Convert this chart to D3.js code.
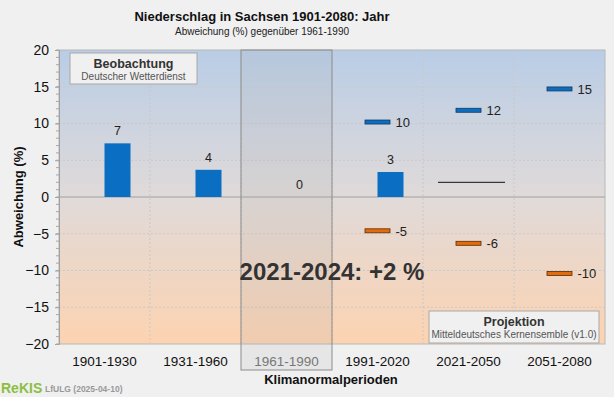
<!DOCTYPE html>
<html>
<head>
<meta charset="utf-8">
<script src="https://cdn.jsdelivr.net/npm/d3@7"></script>
<style>
body { margin: 0; background: #f0f0f0; font-family: "Liberation Sans", Arial, sans-serif; }
</style>
</head>
<body>
<script>
// data
var periods = ["1901-1930", "1931-1960", "1961-1990", "1991-2020", "2021-2050", "2051-2080"];
var obsPeriods = ["1901-1930", "1931-1960", "1961-1990", "1991-2020"];
var obsValues = [7.3, 3.7, 0, 3.4];
var obsLabels = ["7", "4", "0", "3"];
var projPeriods = ["1991-2020", "2021-2050", "2051-2080"];
var projHigh = [10.2, 11.8, 14.7];
var projHighLabels = ["10", "12", "15"];
var projLow = [-4.6, -6.3, -10.4];
var projLowLabels = ["-5", "-6", "-10"];
var recentValue = 2.0;
var recentText = "2021-2024: +2 %";
var yTicks = [-20, -15, -10, -5, 0, 5, 10, 15, 20];

var width = 614;
var height = 397;
var margin = { top: 50, right: 9, bottom: 53, left: 59 };

var svg = d3.select("body")
    .append("svg")
    .attr("width", width)
    .attr("height", height)
    .style("display", "block");

var x = d3.scaleBand()
    .domain(periods)
    .range([margin.left, width - margin.right]);

var y = d3.scaleLinear()
    .domain([-20, 20])
    .range([height - margin.bottom, margin.top]);

var bw = x.bandwidth();

// background gradient
var defs = svg.append("defs");
var grad = defs.append("linearGradient")
    .attr("id", "bg")
    .attr("x1", 0).attr("y1", 0).attr("x2", 0).attr("y2", 1);
grad.append("stop").attr("offset", "0%").attr("stop-color", "#b9cde6");
grad.append("stop").attr("offset", "50%").attr("stop-color", "#e0dad9");
grad.append("stop").attr("offset", "100%").attr("stop-color", "#fdd3b1");

svg.append("rect")
    .attr("x", margin.left)
    .attr("y", y(20))
    .attr("width", x.range()[1] - margin.left)
    .attr("height", y(-20) - y(20))
    .attr("fill", "url(#bg)")
    .attr("stroke", "#b8b8b8");

// grid
svg.append("g").selectAll("line")
    .data(yTicks.filter(function(d) { return d != 0 && d != 20 && d != -20; }))
    .enter().append("line")
    .attr("x1", margin.left).attr("x2", x.range()[1])
    .attr("y1", function(d) { return y(d); }).attr("y2", function(d) { return y(d); })
    .attr("stroke", "#c8c8c8")
    .attr("stroke-dasharray", "2,2");

svg.append("g").selectAll("line")
    .data(periods.slice(1))
    .enter().append("line")
    .attr("x1", function(d) { return x(d); }).attr("x2", function(d) { return x(d); })
    .attr("y1", y(20)).attr("y2", y(-20))
    .attr("stroke", "#c8c8c8")
    .attr("stroke-dasharray", "2,2");

// zero line
svg.append("line")
    .attr("x1", margin.left).attr("x2", x.range()[1])
    .attr("y1", y(0)).attr("y2", y(0))
    .attr("stroke", "#a0a0a0");

// reference period box
svg.append("rect")
    .attr("x", x("1961-1990"))
    .attr("y", y(20))
    .attr("width", bw)
    .attr("height", 370 - y(20))
    .attr("fill", "#a0a0a0")
    .attr("fill-opacity", 0.13)
    .attr("stroke", "#8c8c8c");

// y axis
var yAxis = d3.axisLeft(y)
    .tickValues(yTicks)
    .tickSize(4)
    .tickPadding(6);
var gy = svg.append("g")
    .attr("transform", "translate(" + margin.left + ",0)")
    .call(yAxis);
gy.select(".domain").attr("stroke", "#a0a0a0");
gy.selectAll(".tick line").attr("stroke", "#a0a0a0");
gy.selectAll("text")
    .style("font-size", "14px")
    .style("font-family", "Liberation Sans, Arial, sans-serif")
    .attr("fill", "#111");

// minor ticks
svg.append("g").selectAll("line")
    .data(d3.range(-20, 21))
    .enter().append("line")
    .attr("x1", margin.left - 3).attr("x2", margin.left)
    .attr("y1", function(d) { return y(d); }).attr("y2", function(d) { return y(d); })
    .attr("stroke", "#a8a8a8");

// x tick labels
svg.append("g").selectAll("text")
    .data(periods)
    .enter().append("text")
    .attr("x", function(d) { return x(d) + bw / 2; })
    .attr("y", 366)
    .attr("text-anchor", "middle")
    .style("font-size", "13.5px")
    .attr("fill", function(d) { return d == "1961-1990" ? "#777" : "#111"; })
    .text(function(d) { return d; });

// observation bars
svg.append("g").selectAll("rect")
    .data(obsValues)
    .enter().append("rect")
    .attr("x", function(d, i) { return x(obsPeriods[i]) + bw / 2; })
    .attr("y", function(d) { return y(d); })
    .attr("width", 26)
    .attr("height", function(d) { return y(0) - y(d); })
    .attr("fill", "#0a6fc2");

svg.append("g").selectAll("text")
    .data(obsValues)
    .enter().append("text")
    .attr("x", function(d, i) { return x(obsPeriods[i]) + bw / 2 + 13; })
    .attr("y", function(d) { return y(d) - 8; })
    .attr("text-anchor", "middle")
    .style("font-size", "12.5px")
    .attr("fill", "#222")
    .text(function(d, i) { return obsLabels[i]; });

// projection markers
function markers(vals, labels, fill, stroke) {
    var g = svg.append("g");
    g.selectAll("rect")
        .data(vals)
        .enter().append("rect")
        .attr("x", function(d, i) { return x(projPeriods[i]) + bw / 2 - 12.5; })
        .attr("y", function(d) { return y(d) - 2; })
        .attr("width", 25)
        .attr("height", 4)
        .attr("fill", fill)
        .attr("stroke", stroke)
        .attr("stroke-width", 0.8);
    g.selectAll("text")
        .data(vals)
        .enter().append("text")
        .attr("x", function(d, i) { return x(projPeriods[i]) + bw / 2 + 18; })
        .attr("y", function(d) { return y(d) + 5; })
        .style("font-size", "13px")
        .attr("fill", "#222")
        .text(function(d, i) { return labels[i]; });
}
markers(projHigh, projHighLabels, "#0a6fc2", "#17365d");
markers(projLow, projLowLabels, "#e36c0a", "#5a2a08");

// recent years line
svg.append("line")
    .attr("x1", x("2021-2050") + 15)
    .attr("x2", x("2021-2050") + 82)
    .attr("y1", y(recentValue)).attr("y2", y(recentValue))
    .attr("stroke", "#111")
    .attr("stroke-width", 1);

svg.append("text")
    .attr("x", 332)
    .attr("y", 280)
    .attr("text-anchor", "middle")
    .style("font-size", "24px")
    .style("font-weight", "bold")
    .attr("fill", "#333")
    .text(recentText);

// legend boxes
function legendBox(bx, by, bwid, bh, title, sub) {
    svg.append("rect")
        .attr("x", bx).attr("y", by)
        .attr("width", bwid).attr("height", bh)
        .attr("fill", "#f0f0f0")
        .attr("stroke", "#a8a8a8");
    svg.append("text")
        .attr("x", bx + bwid / 2).attr("y", by + 15)
        .attr("text-anchor", "middle")
        .style("font-size", "12.5px")
        .style("font-weight", "bold")
        .attr("fill", "#333")
        .text(title);
    svg.append("text")
        .attr("x", bx + bwid / 2).attr("y", by + 27)
        .attr("text-anchor", "middle")
        .style("font-size", "10px")
        .attr("fill", "#555")
        .text(sub);
}
legendBox(70, 53, 127, 31, "Beobachtung", "Deutscher Wetterdienst");
legendBox(429, 311, 170, 32, "Projektion", "Mitteldeutsches Kernensemble (v1.0)");

// titles
svg.append("text")
    .attr("x", 262).attr("y", 21)
    .attr("text-anchor", "middle")
    .style("font-size", "13px")
    .style("font-weight", "bold")
    .attr("fill", "#111")
    .text("Niederschlag in Sachsen 1901-2080: Jahr");

svg.append("text")
    .attr("x", 262).attr("y", 35)
    .attr("text-anchor", "middle")
    .style("font-size", "10px")
    .attr("fill", "#222")
    .text("Abweichung (%) gegenüber 1961-1990");

svg.append("text")
    .attr("transform", "translate(23," + y(0) + ") rotate(-90)")
    .attr("text-anchor", "middle")
    .style("font-size", "13px")
    .style("font-weight", "bold")
    .attr("fill", "#111")
    .text("Abweichung (%)");

svg.append("text")
    .attr("x", 331).attr("y", 384)
    .attr("text-anchor", "middle")
    .style("font-size", "13px")
    .style("font-weight", "bold")
    .attr("fill", "#111")
    .text("Klimanormalperioden");

// footer
svg.append("text")
    .attr("x", 1).attr("y", 393)
    .style("font-size", "14px")
    .style("font-weight", "bold")
    .attr("fill", "#8cbf3f")
    .text("ReKIS");
svg.append("text")
    .attr("x", 45).attr("y", 392)
    .style("font-size", "8.5px")
    .style("font-weight", "bold")
    .attr("fill", "#999")
    .text("LfULG (2025-04-10)");
</script>
</body>
</html>
